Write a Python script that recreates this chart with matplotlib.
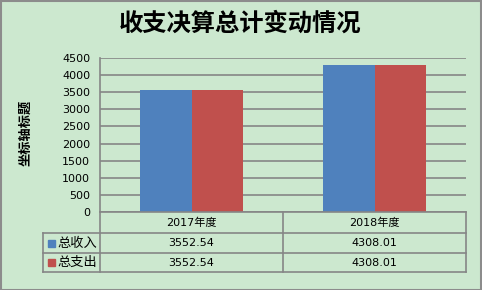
import numpy as np
import matplotlib.pyplot as plt
from matplotlib.lines import Line2D
from matplotlib.patches import Rectangle

plt.rcParams['font.family'] = ['DejaVu Sans', 'Noto Sans CJK SC']
cjk = ['Noto Sans CJK SC', 'DejaVu Sans']

title = '收支决算总计变动情况'
categories = ['2017年度', '2018年度']
series_names = ['总收入', '总支出']
income = [3552.54, 4308.01]
expense = [3552.54, 4308.01]
value_labels = [['3552.54', '4308.01'], ['3552.54', '4308.01']]
colors = ['#4F81BD', '#C0504D']
bg = '#CCE8CF'
grid_c = '#868686'

W, H = 482, 290
fig = plt.figure(figsize=(W / 100, H / 100), dpi=100, facecolor=bg)

# figure border
fig.add_artist(Rectangle((0.5 / W, 0.5 / H), 1 - 1.5 / W, 1 - 1.5 / H, transform=fig.transFigure,
                         fill=False, edgecolor='#8c8c8c', lw=1.5))

px = lambda x: x / W
py = lambda y: 1 - y / H

left, right, top, bottom = 100, 466, 58, 212
ax = fig.add_axes([px(left), py(bottom), px(right - left), (bottom - top) / H])
ax.set_facecolor(bg)

x = np.arange(len(categories))
w = 0.284
ax.bar(x - w / 2, income, w, color=colors[0], zorder=3)
ax.bar(x + w / 2, expense, w, color=colors[1], zorder=3)
ax.set_xlim(-0.5, 1.5)
ax.set_ylim(0, 4500)
ax.set_yticks(np.arange(0, 4501, 500))
ax.yaxis.grid(True, color=grid_c, lw=1.2, zorder=0)
ax.set_xticks([])
ax.tick_params(axis='y', length=0, labelsize=8, pad=7)
for s in ['top', 'right', 'bottom']:
    ax.spines[s].set_visible(False)
ax.spines['left'].set_color(grid_c)
ax.spines['left'].set_linewidth(1.2)

fig.text(px(240), py(24), title, ha='center', va='center', fontsize=17.5, fontweight='bold',
         family=cjk)
fig.text(px(25), py(133), '坐标轴标题', ha='center', va='center', rotation=90, fontsize=9.5,
         fontweight='bold', family=cjk)

# data table
mid = (left + right) / 2
rows_y = [212, 233, 253, 272]
leg_x = 43

def hline(x0, x1, y):
    fig.add_artist(Line2D([px(x0), px(x1)], [py(y), py(y)], color=grid_c, lw=1.2))

def vline(xx, y0, y1):
    fig.add_artist(Line2D([px(xx), px(xx)], [py(y0), py(y1)], color=grid_c, lw=1.2))

hline(left, right, rows_y[0])
for y in rows_y[1:]:
    hline(leg_x, right, y)
vline(left, rows_y[0], rows_y[3])
vline(mid, rows_y[0], rows_y[3])
vline(right, rows_y[0], rows_y[3])
vline(leg_x, rows_y[1], rows_y[3])

col_centers = [(left + mid) / 2, (mid + right) / 2]
for c, lab in zip(col_centers, categories):
    fig.text(px(c), py((rows_y[0] + rows_y[1]) / 2), lab, ha='center', va='center', fontsize=8)
for i, name in enumerate(series_names):
    yc = (rows_y[i + 1] + rows_y[i + 2]) / 2
    fig.add_artist(Rectangle((px(48), py(yc + 3.5)), 7 / W, 7 / H, transform=fig.transFigure,
                             color=colors[i]))
    fig.text(px(57.5), py(yc), name, ha='left', va='center', fontsize=9.5, family=cjk)
    for c, v in zip(col_centers, value_labels[i]):
        fig.text(px(c), py(yc), v, ha='center', va='center', fontsize=8)

fig.savefig('out.png', dpi=100, facecolor=bg)
